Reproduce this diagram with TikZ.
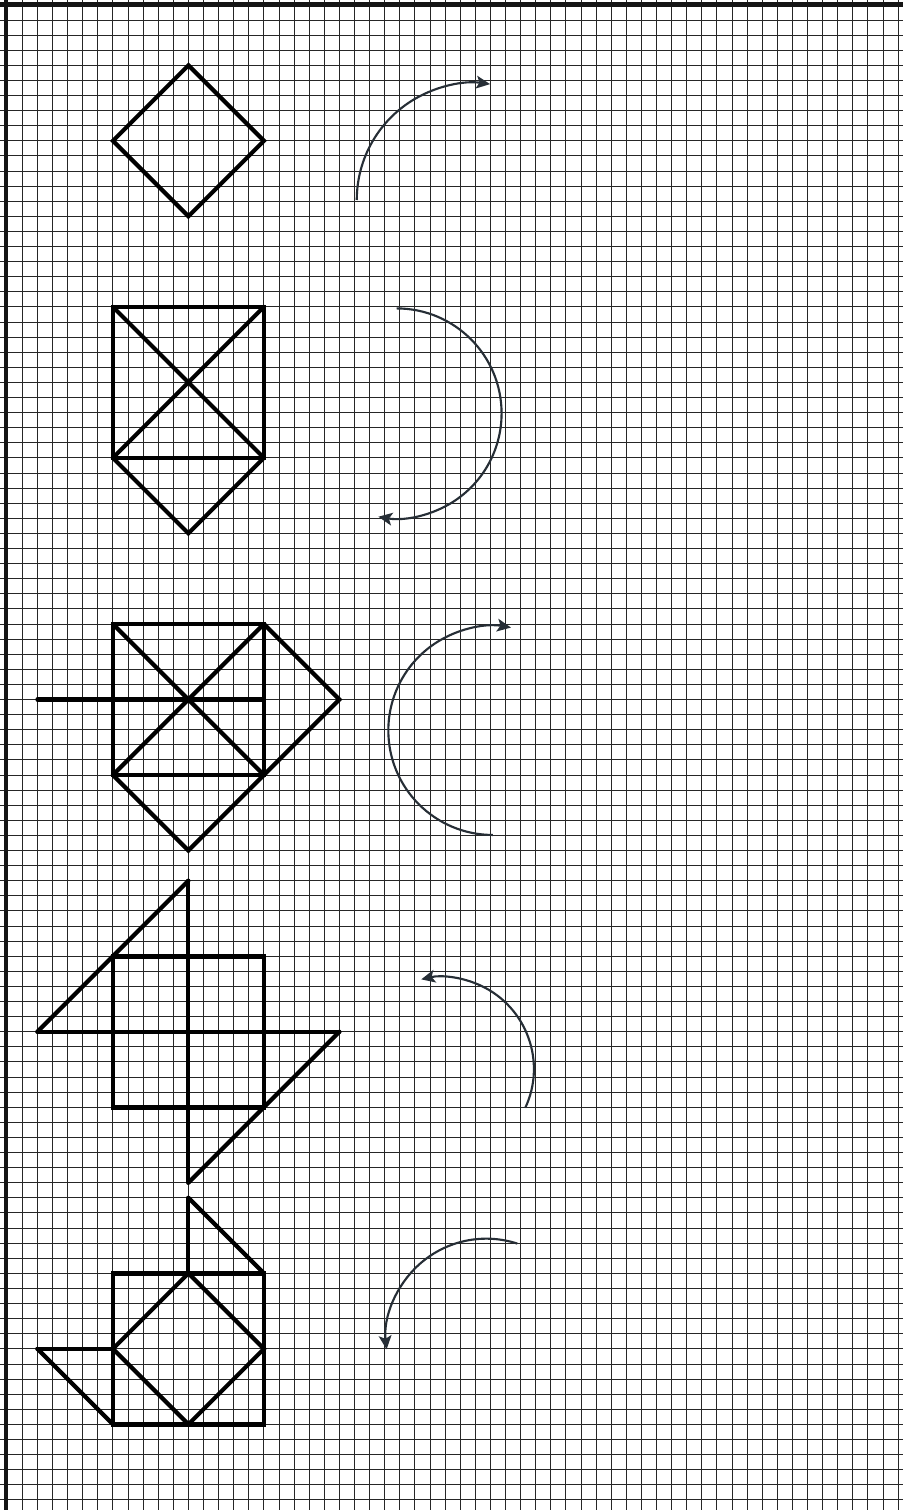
\documentclass[tikz,border=0pt]{standalone}
\usetikzlibrary{arrows.meta}
\definecolor{arrowc}{RGB}{38,46,54}
\begin{document}
\begin{tikzpicture}[x=0.5cm,y=0.5cm,
  gridline/.style={line width=0.8pt,color=black!85},
  frameline/.style={line width=4.6pt,color=black!92},
  shapeline/.style={line width=3.9pt,color=black,line cap=round,line join=miter},
  sqline/.style={line width=4.3pt,color=black,line join=miter,line cap=round},
  turnarrow/.style={line width=2pt,color=arrowc,-{Stealth[length=13pt,width=12pt,inset=3pt]}}]
\useasboundingbox (-1.477,1.325) rectangle (58.32,-98.675);
\fill[white] (-1.477,1.325) rectangle (58.32,-98.675);
% grid
\foreach \k in {0,...,58} {\draw[gridline] (\k,1.325) -- (\k,-98.675);}
\foreach \k in {0,...,98} {\draw[gridline] (-1.477,-\k) -- (58.32,-\k);}
% frame
\draw[frameline] (-1.08,1.325) -- (-1.08,-98.675);
\draw[frameline] (-1.477,1.01) -- (58.32,1.01);
% shape 1
\draw[shapeline] (6,-8) -- (11,-3) -- (16,-8) -- (11,-13) -- cycle;
% shape 2
\draw[sqline] (6,-19) rectangle (16,-29);
\draw[shapeline] (6,-19) -- (16,-29);
\draw[shapeline] (16,-19) -- (6,-29);
\draw[shapeline] (6,-29) -- (11,-34) -- (16,-29);
% shape 3
\draw[sqline] (6,-40) rectangle (16,-50);
\draw[shapeline] (6,-40) -- (16,-50);
\draw[shapeline] (16,-40) -- (6,-50);
\draw[shapeline] (1,-45) -- (16,-45);
\draw[shapeline] (16,-40) -- (21,-45) -- (16,-50);
\draw[shapeline] (6,-50) -- (11,-55) -- (16,-50);
% shape 4
\draw[sqline] (6,-62) rectangle (16,-72);
\draw[shapeline] (11,-57) -- (11,-77);
\draw[shapeline] (1,-67) -- (21,-67);
\draw[shapeline] (1,-67) -- (11,-57);
\draw[shapeline] (21,-67) -- (11,-77);
% shape 5
\draw[sqline] (6,-83) rectangle (16,-93);
\draw[shapeline] (11,-78) -- (11,-83);
\draw[shapeline] (11,-78) -- (16,-83);
\draw[shapeline] (6,-88) -- (11,-83) -- (16,-88) -- (11,-93) -- cycle;
\draw[shapeline] (1,-88) -- (6,-88);
\draw[shapeline] (1,-88) -- (6,-93);
% arrows
\coordinate (a1s) at (22.15,-11.92);
\coordinate (a2s) at (24.79,-19.10);
\coordinate (a3s) at (31.16,-53.97);
\coordinate (a4s) at (33.31,-72.04);
\coordinate (a5s) at (32.78,-81.03);
\draw[turnarrow] (a1s) arc[start angle=180,end angle=82,radius=7.75];
\draw[turnarrow] (a2s) arc[start angle=90,end angle=-100,radius=6.95];
\draw[turnarrow] (a3s) arc[start angle=270,end angle=80,radius=6.92];
\draw[turnarrow] (a4s) arc[start angle=-25,end angle=103,radius=6.09];
\draw[turnarrow] (a5s) arc[start angle=72,end angle=186,radius=6.64];
\end{tikzpicture}
\end{document}
